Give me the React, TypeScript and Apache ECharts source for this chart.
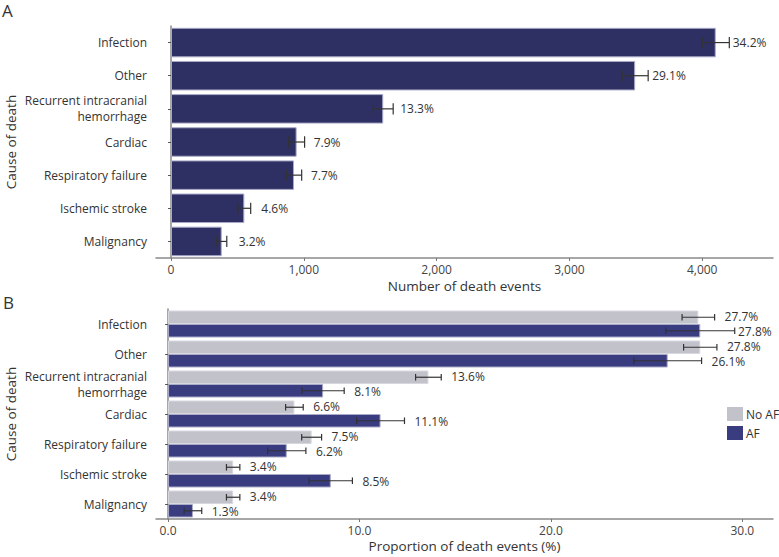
import React, { useEffect, useRef } from "react";
import * as echarts from "echarts";

const categories = [
  "Infection",
  "Other",
  "Recurrent intracranial\nhemorrhage",
  "Cardiac",
  "Respiratory failure",
  "Ischemic stroke",
  "Malignancy",
];

// Panel A
const deathCounts = [4102, 3495, 1598, 946, 926, 552, 382];
const deathCountErr = [102, 98, 75, 60, 58, 48, 38];
const deathPct = [34.2, 29.1, 13.3, 7.9, 7.7, 4.6, 3.2];
const countTicks = [0, 1000, 2000, 3000, 4000];

// Panel B
const noAfPct = [27.7, 27.8, 13.6, 6.6, 7.5, 3.4, 3.4];
const noAfErr = [0.85, 0.87, 0.67, 0.46, 0.52, 0.35, 0.35];
const afPct = [27.8, 26.1, 8.1, 11.1, 6.2, 8.5, 1.3];
const afErr = [1.8, 1.77, 1.1, 1.25, 1.0, 1.13, 0.46];
const pctTicks = [0, 10, 20, 30];

const FONT = "Open Sans";
const NAVY = "#2e3063";
const NAVY_B = "#3a3c80";
const GREY = "#c1c2ca";
const AXIS = "#8a8a8a";
const TXT = "#333333";

function makeErrRender(offsetRatio: number, capRatio: number, labels: string[] | null) {
  return (params: any, api: any) => {
    const v = api.value(0);
    const c = api.value(1);
    const e = api.value(2);
    const band = api.size([0, 1])[1];
    const p0 = api.coord([v - e, c]);
    const p1 = api.coord([v + e, c]);
    const y = p0[1] + offsetRatio * band;
    const cap = capRatio * band;
    const stroke = { stroke: "#333", lineWidth: 1.2 };
    const children: any[] = [
      { type: "line", shape: { x1: p0[0], y1: y, x2: p1[0], y2: y }, style: stroke },
      { type: "line", shape: { x1: p0[0], y1: y - cap, x2: p0[0], y2: y + cap }, style: stroke },
      { type: "line", shape: { x1: p1[0], y1: y - cap, x2: p1[0], y2: y + cap }, style: stroke },
    ];
    if (labels) {
      const tx = Math.min(p1[0] + 10, api.getWidth() - 41);
      children.push({
        type: "text",
        style: {
          x: tx,
          y: y + Math.sign(offsetRatio) * 1,
          text: labels[params.dataIndex],
          fill: TXT,
          fontSize: 12,
          fontFamily: FONT,
          lineHeight: 12,
          verticalAlign: "middle",
          align: "left",
        },
      });
    }
    return { type: "group", children };
  };
}

export default function App() {
  const ref = useRef<HTMLDivElement>(null);

  useEffect(() => {
    if (!ref.current) return;
    const chart = echarts.init(ref.current, null, { renderer: "svg" });

    const catAxisCommon = {
      type: "category" as const,
      data: categories,
      inverse: true,
      axisLine: { show: true, lineStyle: { color: AXIS, width: 1.5 } },
      axisTick: { show: true, alignWithLabel: true, length: 3, lineStyle: { color: "#555" } },
      axisLabel: {
        color: TXT,
        fontSize: 12,
        fontFamily: FONT,
        margin: 9,
        lineHeight: 16,
        align: "right" as const,
      },
      name: "Cause of death",
      nameLocation: "middle" as const,
      nameRotate: 90,
      nameGap: 138,
      nameMoveOverlap: false,
      nameTextStyle: { color: TXT, fontSize: 13.5, fontFamily: FONT },
    };

    const valAxisCommon = {
      type: "value" as const,
      splitLine: { show: false },
      axisLine: { show: true, onZero: false, lineStyle: { color: AXIS, width: 1.5 } },
      axisTick: { show: true, length: 3, lineStyle: { color: "#777" } },
      nameLocation: "middle" as const,
      nameMoveOverlap: false,
      nameTextStyle: { color: TXT, fontSize: 13.5, fontFamily: FONT },
    };

    const option: any = {
      animation: false,
      textStyle: { fontFamily: FONT },
      graphic: [
        { type: "text", left: 2, top: 2, style: { text: "A", fill: TXT, fontSize: 17, fontFamily: FONT } },
        { type: "text", left: 3, top: 294, style: { text: "B", fill: TXT, fontSize: 17, fontFamily: FONT } },
      ],
      legend: {
        data: ["No AF", "AF"],
        orient: "vertical",
        left: 722,
        top: 402,
        itemWidth: 16,
        itemHeight: 14,
        itemGap: 5,
        icon: "rect",
        itemStyle: { borderWidth: 0 },
        textStyle: { color: TXT, fontSize: 12, fontFamily: FONT, padding: [0, 0, 0, -2] },
      },
      grid: [
        { left: 156, right: 6, top: 26, height: 232, outerBoundsMode: "none", containLabel: false },
        { left: 156, right: 6, top: 309, height: 210, outerBoundsMode: "none", containLabel: false },
      ],
      xAxis: [
        {
          ...valAxisCommon,
          gridIndex: 0,
          min: -113,
          max: 4533,
          name: "Number of death events",
          nameGap: 21,
          axisTick: { ...valAxisCommon.axisTick, customValues: countTicks },
          axisLabel: {
            customValues: countTicks,
            color: "#444",
            fontSize: 12,
            fontFamily: FONT,
            margin: 5,
            formatter: (v: number) => v.toLocaleString("en-US"),
          },
        },
        {
          ...valAxisCommon,
          gridIndex: 1,
          min: -0.63,
          max: 31.6,
          name: "Proportion of death events (%)",
          nameGap: 20,
          axisTick: { ...valAxisCommon.axisTick, customValues: pctTicks },
          axisLabel: {
            customValues: pctTicks,
            color: "#444",
            fontSize: 12,
            fontFamily: FONT,
            margin: 5,
            formatter: (v: number) => v.toFixed(1),
          },
        },
      ],
      yAxis: [
        { ...catAxisCommon, gridIndex: 0 },
        { ...catAxisCommon, gridIndex: 1 },
      ],
      series: [
        {
          name: "Deaths",
          type: "bar",
          xAxisIndex: 0,
          yAxisIndex: 0,
          data: deathCounts,
          barCategoryGap: "11%",
          itemStyle: { color: NAVY, borderColor: "#a9aac8", borderWidth: 1 },
          label: {
            show: true,
            position: "right",
            distance: 17,
            color: TXT,
            fontSize: 12,
            fontFamily: FONT,
            formatter: (p: any) => `${deathPct[p.dataIndex].toFixed(1)}%`,
          },
          z: 2,
        },
        {
          name: "DeathsErr",
          type: "custom",
          xAxisIndex: 0,
          yAxisIndex: 0,
          clip: false,
          z: 5,
          encode: { x: 0, y: 1 },
          data: deathCounts.map((v, i) => [v, i, deathCountErr[i]]),
          renderItem: makeErrRender(0, 0.17, null),
        },
        {
          name: "No AF",
          type: "bar",
          xAxisIndex: 1,
          yAxisIndex: 1,
          data: noAfPct,
          barGap: "0%",
          barCategoryGap: "10%",
          itemStyle: { color: GREY, borderColor: "#d8d8e0", borderWidth: 1 },
          z: 2,
        },
        {
          name: "AF",
          type: "bar",
          xAxisIndex: 1,
          yAxisIndex: 1,
          data: afPct,
          barGap: "0%",
          barCategoryGap: "10%",
          itemStyle: { color: NAVY_B, borderColor: "#a9aac8", borderWidth: 1 },
          z: 2,
        },
        {
          name: "NoAFErr",
          type: "custom",
          xAxisIndex: 1,
          yAxisIndex: 1,
          clip: false,
          z: 5,
          encode: { x: 0, y: 1 },
          data: noAfPct.map((v, i) => [v, i, noAfErr[i]]),
          renderItem: makeErrRender(-0.225, 0.11, noAfPct.map((v) => `${v.toFixed(1)}%`)),
        },
        {
          name: "AFErr",
          type: "custom",
          xAxisIndex: 1,
          yAxisIndex: 1,
          clip: false,
          z: 5,
          encode: { x: 0, y: 1 },
          data: afPct.map((v, i) => [v, i, afErr[i]]),
          renderItem: makeErrRender(0.225, 0.11, afPct.map((v) => `${v.toFixed(1)}%`)),
        },
      ],
    };

    chart.setOption(option);
    return () => chart.dispose();
  }, []);

  return <div ref={ref} style={{ width: 779, height: 557, position: "absolute", left: 0, top: 0 }} />;
}
